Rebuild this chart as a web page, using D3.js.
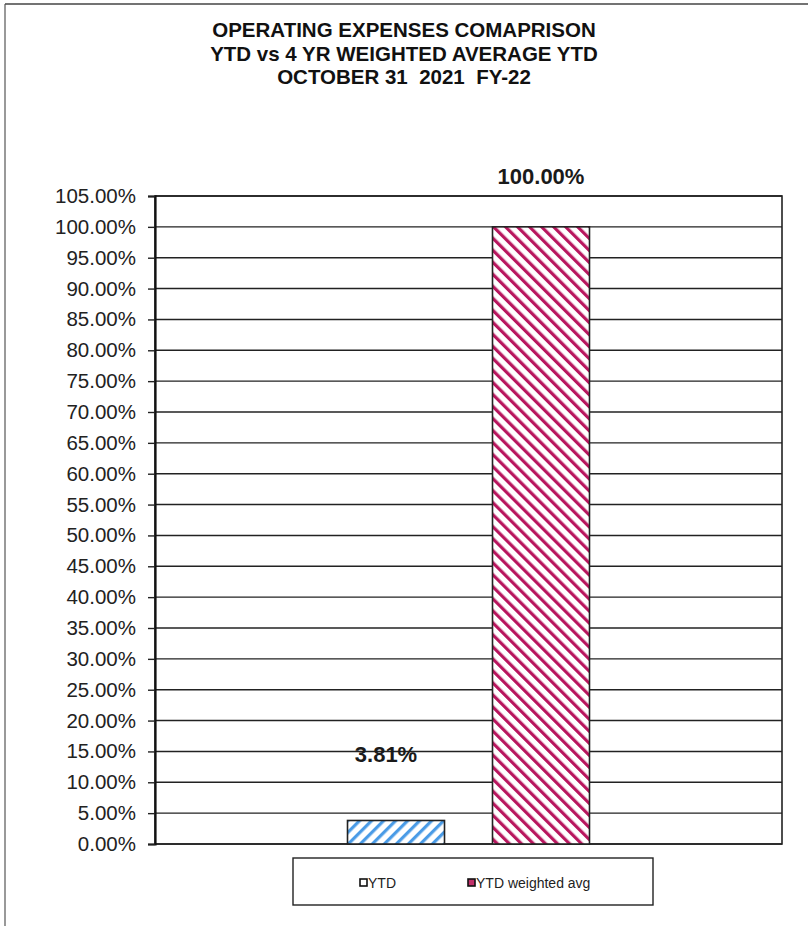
<!DOCTYPE html>
<html>
<head>
<meta charset="utf-8">
<script src="https://cdn.jsdelivr.net/npm/d3@7"></script>
<style>
  html, body { margin: 0; padding: 0; background: #fff; }
  svg { display: block; font-family: "Liberation Sans", Arial, sans-serif; }
</style>
</head>
<body>
<svg id="chart" width="808" height="926"></svg>
<script>
// ---- data ----
const titleLines = ["OPERATING EXPENSES COMAPRISON", "YTD vs 4 YR WEIGHTED AVERAGE YTD", "OCTOBER 31  2021  FY-22"];
const categories = [""];
const seriesNames = ["YTD", "YTD weighted avg"];
const seriesValues = [3.81, 100.00];
const dataLabels = ["3.81%", "100.00%"];
const yTicks = [0, 5, 10, 15, 20, 25, 30, 35, 40, 45, 50, 55, 60, 65, 70, 75, 80, 85, 90, 95, 100, 105];

// ---- layout ----
const svg = d3.select("#chart");
const plot = { left: 155, top: 196, right: 782, bottom: 844 };

const defs = svg.append("defs");
function hatch(id, color, angle) {
  const p = defs.append("pattern")
    .attr("id", id)
    .attr("patternUnits", "userSpaceOnUse")
    .attr("width", 8.5).attr("height", 8.5)
    .attr("patternTransform", `rotate(${angle})`);
  p.append("rect").attr("width", 8.5).attr("height", 8.5).attr("fill", "#fff");
  p.append("rect").attr("x", 0).attr("width", 3.2).attr("height", 8.5).attr("fill", color);
}
hatch("hBlue", "#4a9be6", 45);
hatch("hPink", "#b8165e", -45);
const fills = ["url(#hBlue)", "url(#hPink)"];

// outer frame (top and left edges)
svg.append("line").attr("x1", 5).attr("x2", 808).attr("y1", 4).attr("y2", 4)
  .attr("stroke", "#444").attr("stroke-width", 1.5);
svg.append("line").attr("x1", 5).attr("x2", 5).attr("y1", 4).attr("y2", 926)
  .attr("stroke", "#555").attr("stroke-width", 1.2);

// title
svg.append("g").selectAll("text").data(titleLines).join("text")
  .attr("x", 404).attr("y", (d, i) => 37 + i * 23.5)
  .attr("text-anchor", "middle")
  .style("white-space", "pre")
  .attr("font-size", 20.5).attr("font-weight", "bold").attr("fill", "#111")
  .text(d => d);

// scales
const y = d3.scaleLinear().domain([0, 105]).range([plot.bottom, plot.top]);
const x0 = d3.scaleBand().domain(categories).range([plot.left, plot.right]).paddingInner(0).paddingOuter(0.7955);
const x1 = d3.scaleBand().domain(seriesNames).range([0, x0.bandwidth()]).paddingInner(0.331).paddingOuter(0);

// gridlines
svg.append("g").selectAll("line").data(yTicks).join("line")
  .attr("x1", plot.left).attr("x2", plot.right)
  .attr("y1", d => y(d)).attr("y2", d => y(d))
  .attr("stroke", "#222").attr("stroke-width", 1.4);

// plot border
svg.append("rect")
  .attr("x", plot.left).attr("y", plot.top)
  .attr("width", plot.right - plot.left).attr("height", plot.bottom - plot.top)
  .attr("fill", "none").attr("stroke", "#222").attr("stroke-width", 1.6);

// y axis
const yAxis = d3.axisLeft(y).tickValues(yTicks).tickSize(7).tickPadding(12)
  .tickFormat(d => d.toFixed(2) + "%");
const ga = svg.append("g").attr("transform", `translate(${plot.left},0)`).call(yAxis);
ga.select(".domain").attr("stroke", "#111").attr("stroke-width", 2.2);
ga.selectAll(".tick line").attr("stroke", "#222").attr("stroke-width", 1.4);
ga.selectAll(".tick text").attr("font-size", 20.5).attr("fill", "#222")
  .attr("font-family", "'Liberation Sans', Arial, sans-serif");

// bars
const bars = seriesNames.map((s, i) => ({ series: s, value: seriesValues[i], label: dataLabels[i], cat: categories[0], i }));
const gBars = svg.append("g");
gBars.selectAll("rect").data(bars).join("rect")
  .attr("x", d => x0(d.cat) + x1(d.series))
  .attr("y", d => y(d.value))
  .attr("width", x1.bandwidth())
  .attr("height", d => y(0) - y(d.value))
  .attr("fill", d => fills[d.i])
  .attr("stroke", "#222").attr("stroke-width", 1.6);

// data labels
const labelDx = [-10, 0];
const labelDy = [-58, -43];
svg.append("g").selectAll("text").data(bars).join("text")
  .attr("x", d => x0(d.cat) + x1(d.series) + x1.bandwidth() / 2 + labelDx[d.i])
  .attr("y", d => y(d.value) + labelDy[d.i])
  .attr("text-anchor", "middle")
  .attr("font-size", 22).attr("font-weight", "bold").attr("fill", "#1a1a1a")
  .text(d => d.label);

// legend
const leg = svg.append("g");
leg.append("rect").attr("x", 293).attr("y", 858).attr("width", 360).attr("height", 47)
  .attr("fill", "#fff").attr("stroke", "#222").attr("stroke-width", 1.4);
const legX = [360, 468];
const li = leg.selectAll("g").data(seriesNames).join("g")
  .attr("transform", (d, i) => `translate(${legX[i]},879)`);
li.append("rect").attr("width", 7).attr("height", 7)
  .attr("fill", (d, i) => i === 0 ? "#fff" : "#c0306a")
  .attr("stroke", "#111").attr("stroke-width", 1.6);
li.append("text").attr("x", 8).attr("y", 9)
  .attr("font-size", 14).attr("fill", "#222")
  .text(d => d);
</script>
</body>
</html>
